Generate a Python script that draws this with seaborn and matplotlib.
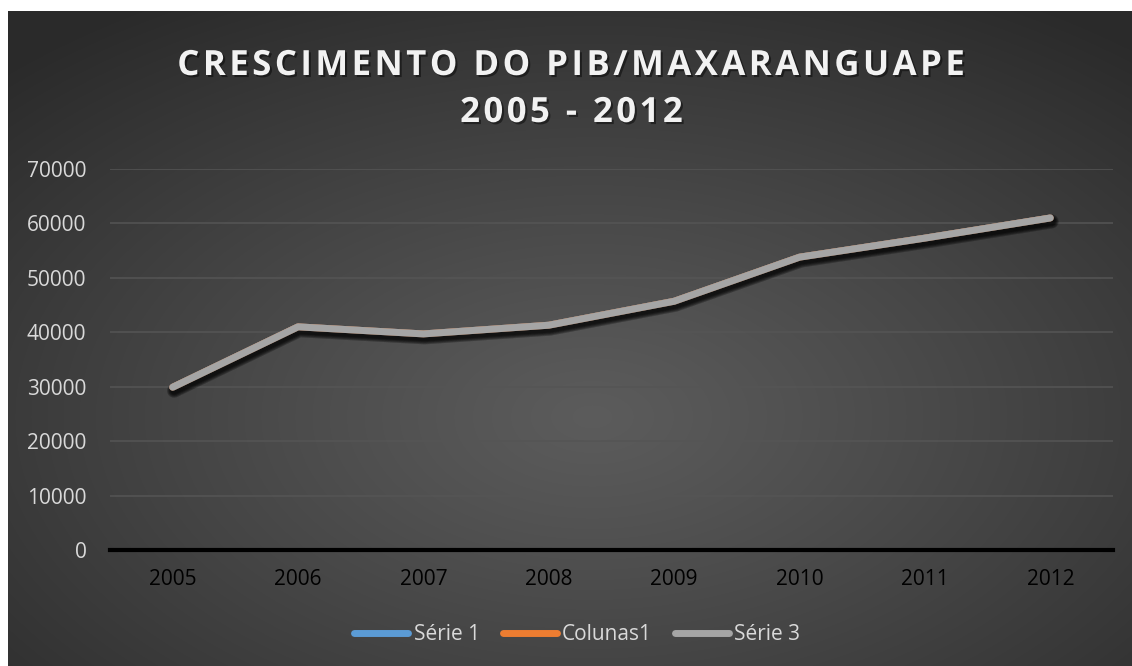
import numpy as np
import pandas as pd
import matplotlib
matplotlib.use("Agg")
import matplotlib.pyplot as plt
import matplotlib.patheffects as pe
from matplotlib.lines import Line2D
import seaborn as sns

# data
years = ["2005", "2006", "2007", "2008", "2009", "2010", "2011", "2012"]
serie1 = [29900, 41000, 39700, 41300, 45700, 53800, 57300, 61000]
colunas1 = [29900, 41000, 39700, 41300, 45700, 53800, 57300, 61000]
serie3 = [29900, 41000, 39700, 41300, 45700, 53800, 57300, 61000]
series_names = ["Série 1", "Colunas1", "Série 3"]
series_colors = ["#5b9bd5", "#ed7d31", "#a5a5a5"]
title_lines = ["CRESCIMENTO DO PIB/MAXARANGUAPE", "2005 - 2012"]

df = pd.DataFrame({
    "ano": years * 3,
    "valor": serie1 + colunas1 + serie3,
    "serie": [s for s in series_names for _ in years],
})

sns.set_theme(style="white")
plt.rcParams["font.family"] = ["Open Sans", "DejaVu Sans"]

W, H = 1132, 666
fig = plt.figure(figsize=(W / 100, H / 100), dpi=100)
fig.patch.set_facecolor("white")

# dark radial gradient background (chart area)
bg = fig.add_axes([8 / W, 0, (W - 9) / W, (H - 11) / H])
bg.set_axis_off()
gx, gy = np.meshgrid(np.linspace(0, 1, 1100), np.linspace(0, 1, 650))
r = np.sqrt(((gx - 0.52) / 0.75) ** 2 + ((gy - 0.62) / 0.75) ** 2)
r = np.clip(r, 0, 1)
c0, c1 = 0.36, 0.165
shade = c0 + (c1 - c0) * r ** 1.1
img = np.dstack([shade, shade, shade])
bg.imshow(img, extent=[0, 1, 0, 1], aspect="auto", origin="upper", interpolation="bilinear")
bg.set_xlim(0, 1)
bg.set_ylim(0, 1)

ax = fig.add_axes([110 / W, 1 - 550 / H, (1113 - 110) / W, (550 - 169) / H])
ax.patch.set_alpha(0)

sns.lineplot(data=df, x="ano", y="valor", hue="serie", hue_order=series_names,
             palette=series_colors, linewidth=5, ax=ax, legend=False, sort=False)

# soft shadow under the lines
shadow = [pe.SimpleLineShadow(offset=(1, -2.5), shadow_color="black", alpha=0.1, linewidth=lw)
          for lw in (10, 8.5, 7, 5.5)]
for ln in ax.lines:
    ln.set_solid_capstyle("round")
    ln.set_solid_joinstyle("round")
    ln.set_zorder(4)
    ln.set_path_effects(shadow + [pe.Normal()])

ax.set_xlim(-0.5, len(years) - 0.5)
ax.set_ylim(0, 70000)
ax.set_yticks(np.arange(0, 70001, 10000))
ax.set_axisbelow(True)
ax.yaxis.grid(True, color="#555555", linewidth=1.1)
ax.xaxis.grid(False)
for s in ["top", "right", "left"]:
    ax.spines[s].set_visible(False)
ax.spines["bottom"].set_color("black")
ax.spines["bottom"].set_linewidth(3)
ax.spines["bottom"].set_zorder(3)
ax.tick_params(axis="y", colors="#d9d9d9", labelsize=15, length=0, pad=17)
ax.tick_params(axis="x", colors="black", labelsize=15, length=0, pad=14)
ax.set_xlabel("")
ax.set_ylabel("")

# spaced-out title (hair spaces between letters)
hair = "\u200a"
title_ys = [66, 113]
for txt, yy in zip(title_lines, title_ys):
    spaced = hair.join(txt)
    fig.text(0.505, 1 - yy / H, spaced, ha="center", va="center", fontsize=25,
             fontweight="bold", color="#f2f2f2",
             path_effects=[pe.withSimplePatchShadow(offset=(1.5, -1.5), shadow_rgbFace="black", alpha=0.45)])

handles = [Line2D([0], [0], color=c, linewidth=5, solid_capstyle="round") for c in series_colors]
leg = fig.legend(handles, series_names, loc="center", bbox_to_anchor=(0.51, 1 - 635 / H),
                 ncol=3, frameon=False, fontsize=15, handlelength=2.6, handletextpad=0.25,
                 columnspacing=1.1)
for t in leg.get_texts():
    t.set_color("#d9d9d9")

fig.savefig("out.png", dpi=100, facecolor=fig.get_facecolor())
